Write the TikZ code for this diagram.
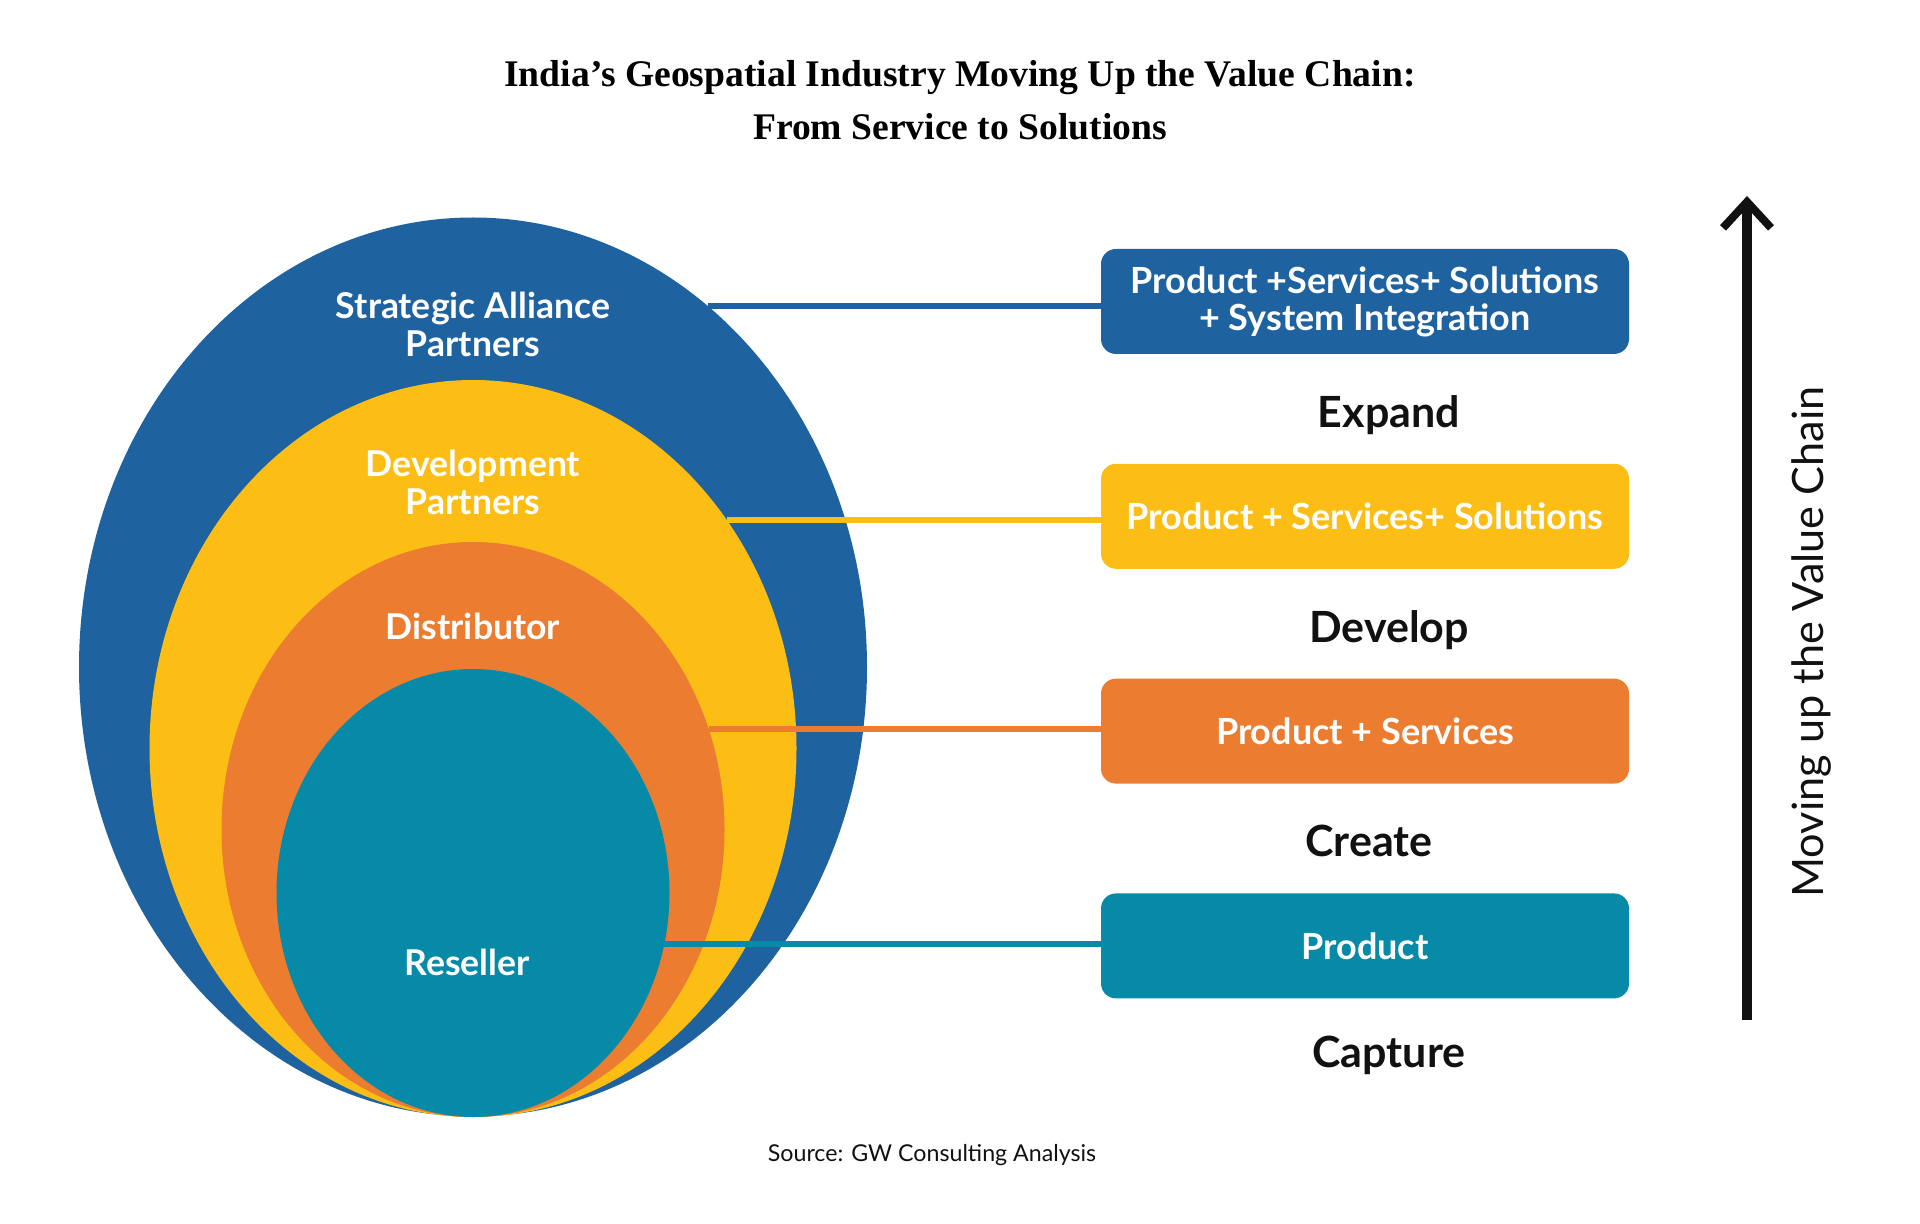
\documentclass[tikz,border=0pt]{standalone}
\usepackage{fontspec}
\setmainfont{Liberation Serif}
\setsansfont{Lato}
\usepackage{tikz}
\usetikzlibrary{arrows.meta,positioning,shapes.geometric}
\definecolor{ink}{HTML}{111111}
\definecolor{sablue}{HTML}{1E62A0}
\definecolor{devyellow}{HTML}{FCBE14}
\definecolor{distorange}{HTML}{EB7C30}
\definecolor{resteal}{HTML}{068AA8}

\begin{document}
\begin{tikzpicture}[x=0.5pt,y=-0.5pt,node distance=54.5pt,
  ring/.style={ellipse,inner sep=0pt,outer sep=0pt},
  ringlabel/.style={text=white,align=center,font=\sffamily\bfseries\fontsize{17.8}{19}\selectfont},
  tier/.style={rounded corners=7.5pt,minimum width=264pt,minimum height=52.5pt,inner sep=2pt,align=center,text=white,font=\sffamily\bfseries\fontsize{18}{18.5}\selectfont},
  stage/.style={text=ink,font=\sffamily\bfseries\fontsize{21.5}{24}\selectfont},
  link/.style={line width=3pt}]
\useasboundingbox (0,0) rectangle (1920,1224);
% title
\node[align=center,font=\bfseries\fontsize{18.8}{26.75}\selectfont] (title) at (960,100) {India’s Geospatial Industry Moving Up the Value Chain:\\From Service to Solutions};
% nested rings
\node[ring,fill=sablue,minimum width=394pt,minimum height=449.5pt] (sa) at (473,667) {};
\node[ring,fill=devyellow,minimum width=323.5pt,minimum height=368.5pt] (dp) at (473,748.5) {};
\node[ring,fill=distorange,minimum width=251.5pt,minimum height=287.5pt] (di) at (473,829.5) {};
\node[ring,fill=resteal,minimum width=196.5pt,minimum height=224pt] (re) at (473,893) {};
\node[ringlabel] (salabel) at (473,324) {Strategic Alliance\\Partners};
\node[ringlabel] (dplabel) at (473,482) {Development\\Partners};
\node[ringlabel] (dilabel) at (473,626) {Distributor};
\node[ringlabel] (relabel) at (467,962) {Reseller};
% offerings
\node[tier,fill=sablue] (pssi) at (1365,301.5) {Product +Services+ Solutions\\+ System Integration};
\node[tier,fill=devyellow,below=of pssi] (pss) {Product + Services+ Solutions};
\node[tier,fill=distorange,below=of pss] (ps) {Product + Services};
\node[tier,fill=resteal,below=of ps] (pr) {Product};
\node[stage,below=17pt of pssi,xshift=12pt] (expand) {Expand};
\node[stage,below=17pt of pss,xshift=12pt] (develop) {Develop};
\node[stage,below=17pt of ps,xshift=2pt] (create) {Create};
\node[stage,below=15pt of pr,xshift=12pt] (capture) {Capture};
\draw[link,sablue] (sa.57.9) -- (pssi.west |- sa.57.9);
\draw[link,devyellow] (dp.42.9) -- (pss.west |- dp.42.9);
\draw[link,distorange] (di.23) -- (ps.west |- di.23);
\draw[link,resteal] (re.-15.2) -- (pr.west |- re.-15.2);
% value chain arrow
\coordinate (vbot) at (1747,1020);
\coordinate (vtop) at (1747,196);
\draw[line width=5pt,ink,-{Straight Barb[length=13pt,width=24pt,line width=4pt]}] (vbot) -- (vtop);
\node[rotate=90,text=ink,font=\sffamily\fontsize{21.6}{24}\selectfont] (vclabel) at (1812,642) {Moving up the Value Chain};
\node[text=ink,font=\sffamily\fontsize{11.6}{13}\selectfont] (source) at (932,1155) {Source: GW Consulting Analysis};
\end{tikzpicture}
\end{document}
